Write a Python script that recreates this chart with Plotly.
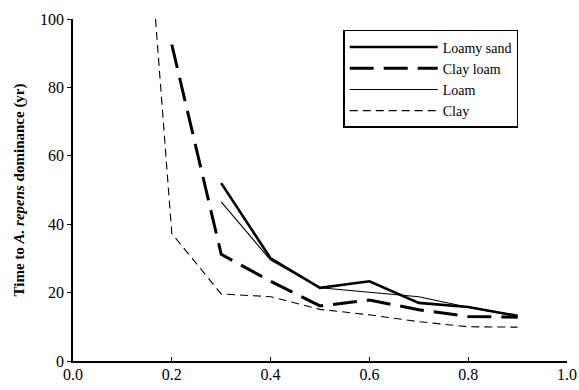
import plotly.graph_objects as go

x_loamy_sand = [0.3, 0.4, 0.5, 0.6, 0.7, 0.8, 0.9]
y_loamy_sand = [52, 30, 21.4, 23.3, 17.0, 15.8, 13.2]

x_clay_loam = [0.2, 0.3, 0.4, 0.5, 0.6, 0.7, 0.8, 0.9]
y_clay_loam = [92.5, 31.2, 23.3, 16.1, 17.8, 15.0, 13.0, 12.8]

x_loam = [0.3, 0.4, 0.5, 0.6, 0.7, 0.8, 0.9]
y_loam = [46.5, 29.5, 21.4, 20.2, 18.8, 15.7, 13.0]

x_clay = [0.167, 0.2, 0.3, 0.4, 0.5, 0.6, 0.7, 0.8, 0.9]
y_clay = [100, 37.3, 19.6, 18.8, 15.1, 13.5, 11.5, 10.0, 9.9]

x_ticks = [0.0, 0.2, 0.4, 0.6, 0.8, 1.0]
y_ticks = [0, 20, 40, 60, 80, 100]

serif = "Liberation Serif, Times New Roman, serif"

fig = go.Figure()
fig.add_trace(go.Scatter(x=x_loamy_sand, y=y_loamy_sand, mode="lines", name="Loamy sand",
                         line=dict(color="black", width=2.6)))
fig.add_trace(go.Scatter(x=x_clay_loam, y=y_clay_loam, mode="lines", name="Clay loam",
                         line=dict(color="black", width=3, dash="24px,10px")))
fig.add_trace(go.Scatter(x=x_loam, y=y_loam, mode="lines", name="Loam",
                         line=dict(color="black", width=1.1)))
fig.add_trace(go.Scatter(x=x_clay, y=y_clay, mode="lines", name="Clay",
                         line=dict(color="black", width=1.1, dash="8px,5px")))

fig.update_layout(
    width=579, height=390,
    margin=dict(l=73, r=12, t=19, b=29, autoexpand=False),
    plot_bgcolor="white", paper_bgcolor="white",
    font=dict(family=serif, color="black", size=16),
    legend=dict(x=0.547, y=0.968, xanchor="left", yanchor="top",
                bordercolor="black", borderwidth=1.5, bgcolor="white",
                font=dict(family=serif, size=14), tracegroupgap=0,
                itemwidth=88),
    showlegend=True,
)
fig.update_xaxes(range=[0, 1.0], tickvals=x_ticks, ticktext=[f"{v:.1f}" for v in x_ticks],
                 showgrid=False, zeroline=False, showline=True, linecolor="black", linewidth=1.5,
                 ticks="inside", ticklen=4, tickcolor="black", tickwidth=1.2,
                 ticklabelstandoff=-2, automargin=False,
                 tickfont=dict(family=serif, size=16))
fig.update_yaxes(range=[0, 100], tickvals=y_ticks, automargin=False,
                 showgrid=False, zeroline=False, showline=True, linecolor="black", linewidth=1.5,
                 ticks="outside", ticklen=4, tickcolor="black", tickwidth=1.2,
                 tickfont=dict(family=serif, size=16),
                 title=dict(text="<b>Time to <i>A. repens</i> dominance (yr)</b>",
                            font=dict(family=serif, size=15), standoff=12))

fig.write_html("out.html")
